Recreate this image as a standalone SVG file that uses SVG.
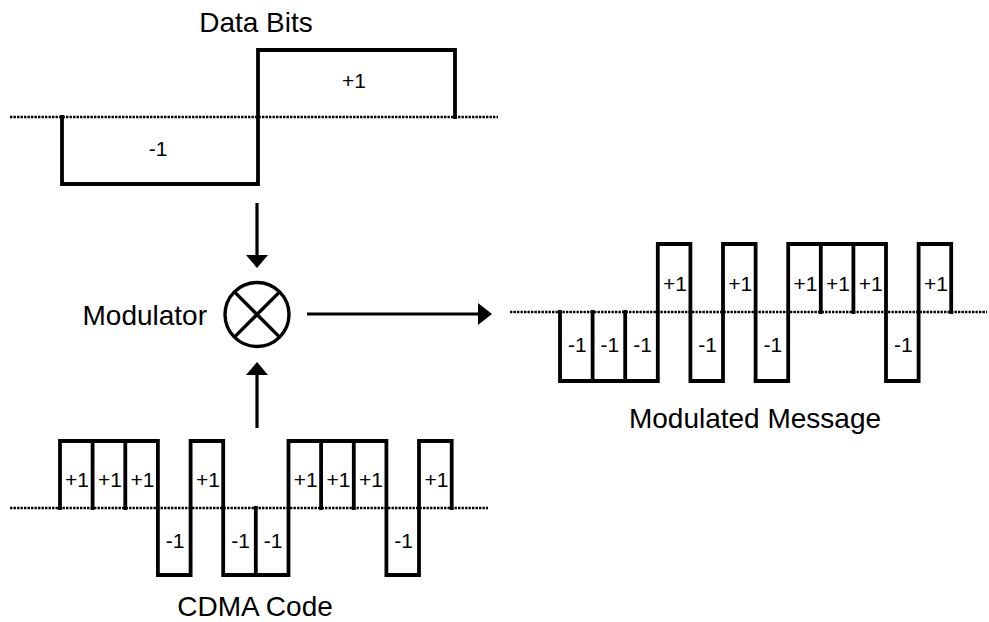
<svg xmlns="http://www.w3.org/2000/svg" width="989" height="622" viewBox="0 0 989 622">
<defs>
<style>
.bg{fill:#ffffff}
.base{stroke:#000;stroke-width:2.6;stroke-dasharray:2.4 1.1;fill:none}
.wave{stroke:#000;stroke-width:3.8;fill:none;stroke-linejoin:miter;stroke-linecap:square}
.lbl{font-family:"Liberation Sans",Arial,sans-serif;font-size:28px;fill:#000}
.val{font-family:"Liberation Sans",Arial,sans-serif;font-size:21px;fill:#000;text-anchor:middle}
.conn{stroke:#000;stroke-width:3.2;fill:none}
.head{fill:#000}
</style>
</defs>
<rect class="bg" x="0" y="0" width="989" height="622"/>

<g id="data-bits">
<text class="lbl" x="256" y="32" text-anchor="middle">Data Bits</text>
<line class="base" x1="10" y1="117" x2="498" y2="117"/>
<path class="wave" d="M62 117 V184 H258 V50 H455 V117"/>
<text class="val" x="158" y="156">-1</text>
<text class="val" x="354" y="88">+1</text>
</g>

<g id="cdma-code">
<line class="base" x1="10" y1="508" x2="488" y2="508"/>
<path class="wave" d="M60 508 V441 H92.6 V508 M92.6 441 H125.3 V508 M125.3 441 H157.9 V575 H190.6 V441 H223.2 V575 H255.8 V508 M255.8 575 H288.5 V441 H321.1 V508 M321.1 441 H353.8 V508 M353.8 441 H386.4 V575 H419 V441 H451.7 V508"/>
<text class="val" x="77" y="487">+1</text>
<text class="val" x="110" y="487">+1</text>
<text class="val" x="142.6" y="487">+1</text>
<text class="val" x="175.2" y="548">-1</text>
<text class="val" x="207.9" y="487">+1</text>
<text class="val" x="240.5" y="548">-1</text>
<text class="val" x="273.2" y="548">-1</text>
<text class="val" x="305.8" y="487">+1</text>
<text class="val" x="338.4" y="487">+1</text>
<text class="val" x="371.1" y="487">+1</text>
<text class="val" x="403.7" y="548">-1</text>
<text class="val" x="436.4" y="487">+1</text>
<text class="lbl" x="255" y="616" text-anchor="middle">CDMA Code</text>
</g>

<g id="modulator">
<text class="lbl" x="207" y="325" text-anchor="end">Modulator</text>
<circle cx="257" cy="314.5" r="32" fill="none" stroke="#000" stroke-width="3.4"/>
<line x1="234.4" y1="291.9" x2="279.6" y2="337.1" stroke="#000" stroke-width="3.4"/>
<line x1="279.6" y1="291.9" x2="234.4" y2="337.1" stroke="#000" stroke-width="3.4"/>
</g>

<g id="modulated-message">
<line class="base" x1="510" y1="312" x2="987" y2="312"/>
<path class="wave" d="M560 312 V381 H592.6 V312 M592.6 381 H625.2 V312 M625.2 381 H657.8 V244 H690.4 V381 H723 V244 H755.6 V381 H788.2 V244 H820.8 V312 M820.8 244 H853.4 V312 M853.4 244 H886 V381 H918.6 V244 H951.2 V312"/>
<text class="val" x="577.3" y="352">-1</text>
<text class="val" x="609.9" y="352">-1</text>
<text class="val" x="642.5" y="352">-1</text>
<text class="val" x="675.1" y="291">+1</text>
<text class="val" x="707.7" y="352">-1</text>
<text class="val" x="740.3" y="291">+1</text>
<text class="val" x="772.9" y="352">-1</text>
<text class="val" x="805.5" y="291">+1</text>
<text class="val" x="838.1" y="291">+1</text>
<text class="val" x="870.7" y="291">+1</text>
<text class="val" x="903.3" y="352">-1</text>
<text class="val" x="935.9" y="291">+1</text>
<text class="lbl" x="755" y="428" text-anchor="middle">Modulated Message</text>
</g>

<g id="connectors">
<line class="conn" x1="257" y1="203" x2="257" y2="256"/>
<polygon class="head" points="246,255 268,255 257,268"/>
<line class="conn" x1="257" y1="428" x2="257" y2="374"/>
<polygon class="head" points="246,375 268,375 257,362"/>
<line class="conn" x1="307" y1="314" x2="479" y2="314"/>
<polygon class="head" points="478,303 478,325 492,314"/>
</g>
</svg>
